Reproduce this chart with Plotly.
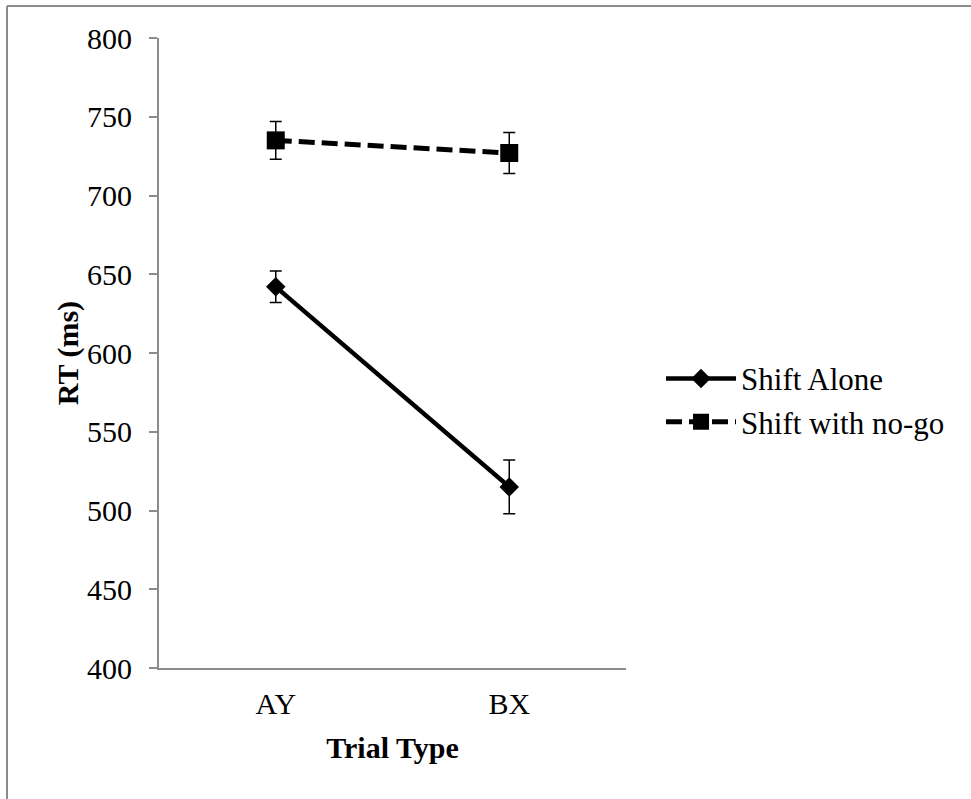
import plotly.graph_objects as go

categories = ["AY", "BX"]
shift_alone = [642, 515]
shift_alone_err = [10, 17]
shift_nogo = [735, 727]
shift_nogo_err = [12, 13]
y_ticks = [400, 450, 500, 550, 600, 650, 700, 750, 800]

FONT = "Liberation Serif"
GRAY = "#8c8c8c"

fig = go.Figure()
fig.add_trace(go.Scatter(
    x=categories, y=shift_alone, name="Shift Alone", mode="lines+markers",
    line=dict(color="black", width=4.5),
    marker=dict(symbol="diamond", size=15, color="black"),
    error_y=dict(type="data", array=shift_alone_err, color="black", thickness=1.5, width=6),
))
fig.add_trace(go.Scatter(
    x=categories, y=shift_nogo, name="Shift with no-go", mode="lines+markers",
    line=dict(color="black", width=5, dash="16px,7px"),
    marker=dict(symbol="square", size=18, color="black"),
    error_y=dict(type="data", array=shift_nogo_err, color="black", thickness=1.5, width=6),
))

fig.update_layout(
    width=971, height=799,
    margin=dict(l=159, r=345, t=38, b=131, autoexpand=False),
    paper_bgcolor="white", plot_bgcolor="white",
    font=dict(family=FONT, size=30, color="black"),
    showlegend=True,
    legend=dict(x=1.075, y=0.425, xanchor="left", yanchor="middle",
                font=dict(family=FONT, size=31, color="black"),
                itemwidth=70, bgcolor="rgba(0,0,0,0)"),
    xaxis=dict(
        type="category", range=[-0.5, 1.5], showgrid=False, zeroline=False,
        showline=True, linecolor=GRAY, linewidth=2, ticks="",
        tickfont=dict(family=FONT, size=30), ticklabelstandoff=8,
        title=dict(text="<b>Trial Type</b>", font=dict(family=FONT, size=30), standoff=18),
    ),
    yaxis=dict(
        range=[400, 800], tickvals=y_ticks, showgrid=False, zeroline=False,
        showline=True, linecolor=GRAY, linewidth=2, ticks="outside", ticklen=8,
        tickcolor=GRAY, tickwidth=2,
        tickfont=dict(family=FONT, size=30), ticklabelstandoff=11,
        title=dict(text="<b>RT (ms)</b>", font=dict(family=FONT, size=30), standoff=0),
    ),
    shapes=[
        dict(type="line", xref="paper", yref="paper",
             x0=(7 - 159) / 467, x1=(975 - 159) / 467,
             y0=(668 - 6) / 630, y1=(668 - 6) / 630,
             line=dict(color=GRAY, width=2)),
        dict(type="line", xref="paper", yref="paper",
             x0=(7 - 159) / 467, x1=(7 - 159) / 467,
             y0=(668 - 6) / 630, y1=(668 - 805) / 630,
             line=dict(color=GRAY, width=2)),
    ],
)

fig.write_html("out.html", config={"displayModeBar": False},
               post_script="document.body.style.margin='0';")
